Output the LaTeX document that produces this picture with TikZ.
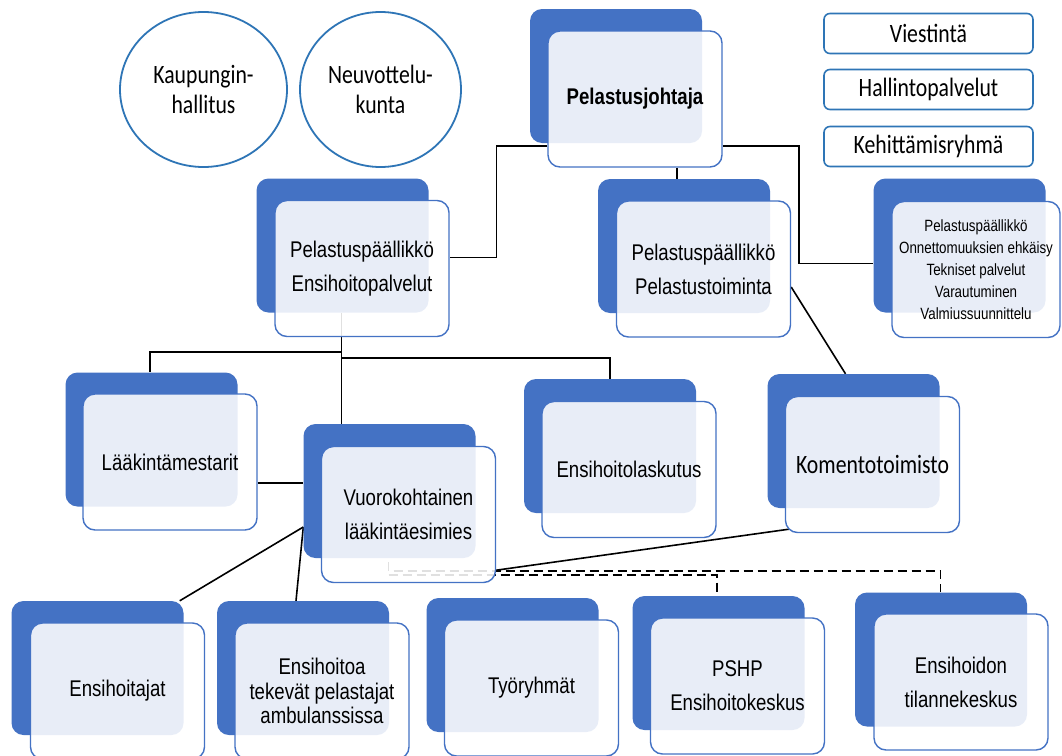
\documentclass[tikz,border=0pt]{standalone}
\usepackage{fontspec}
\usepackage{tikz}
\usetikzlibrary{backgrounds,shapes.geometric}
\newfontfamily\arialnarrow[FakeStretch=0.82]{Liberation Sans}
\newfontfamily\calibrinarrow[FakeStretch=0.82]{Carlito}
\definecolor{boxblue}{HTML}{4472C4}
\definecolor{ovalblue}{HTML}{2E75B6}

\begin{document}
\begin{tikzpicture}[x=1pt,y=-1pt,
  back/.style={rectangle,rounded corners=12pt,fill=boxblue,minimum width=172pt,minimum height=134pt,inner sep=0pt},
  front/.style={rectangle,rounded corners=12pt,draw=boxblue,line width=1.4pt,fill=white,fill opacity=0.88,text opacity=1,minimum width=174pt,minimum height=136pt,inner sep=0pt,align=center,font=\arialnarrow\fontsize{22.7}{34}\selectfont},
  oval/.style={ellipse,draw=ovalblue,line width=1.8pt,inner sep=0pt,align=center,font=\calibrinarrow\fontsize{26.5}{30}\selectfont},
  tag/.style={rectangle,rounded corners=6pt,draw=ovalblue,line width=1.6pt,minimum width=209pt,minimum height=40pt,inner sep=0pt,font=\calibrinarrow\fontsize{26.5}{30}\selectfont},
  link/.style={draw=black,line width=1.6pt},
  dashlink/.style={link,dash pattern=on 9pt off 5pt}]
\useasboundingbox (0,0) rectangle (1062,755);

\node[oval,minimum width=167pt,minimum height=155pt] (kaupunki) at (203.5,89.5) {Kaupungin-\\hallitus};
\node[oval,minimum width=161pt,minimum height=155pt] (neuvottelu) at (380.5,89.5) {Neuvottelu-\\kunta};
\node[tag] (viestinta) at (928.5,33.5) {Viestintä};
\node[tag] (hallinto) at (928.5,89.5) {Hallintopalvelut};
\node[tag] (kehitys) at (928.5,146.5) {Kehittämisryhmä};

\node[back] (johtaja-b) at (616,76) {};
\node[front] (johtaja) at (635,99) {\bfseries Pelastusjohtaja};
\node[back] (ensihoito-b) at (342.5,245.5) {};
\node[front] (ensihoito) at (362,268.5) {Pelastuspäällikkö\\Ensihoitopalvelut};
\node[back] (toiminta-b) at (684,246) {};
\node[front] (toiminta) at (703.5,269) {Pelastuspäällikkö\\Pelastustoiminta};
\node[back] (ehkaisy-b) at (959.5,245.5) {};
\node[front,minimum width=168pt,font=\arialnarrow\fontsize{16.3}{22}\selectfont] (ehkaisy) at (976,269.5) {Pelastuspäällikkö\\Onnettomuuksien ehkäisy\\Tekniset palvelut\\Varautuminen\\Valmiussuunnittelu};

\node[back] (mestarit-b) at (151.5,439.5) {};
\node[front] (mestarit) at (170,462) {Lääkintämestarit};
\node[back] (vuoro-b) at (389.5,491) {};
\node[front] (vuoro) at (408.5,514.5) {Vuorokohtainen\\lääkintäesimies};
\node[back] (laskutus-b) at (610,446) {};
\node[front] (laskutus) at (629,469.5) {Ensihoitolaskutus};
\node[back] (komento-b) at (853.5,441) {};
\node[front,font=\calibrinarrow\fontsize{26.5}{30}\selectfont] (komento) at (872.5,464.5) {Komentotoimisto};

\node[back] (hoitajat-b) at (97.5,668) {};
\node[front] (hoitajat) at (117.5,691) {Ensihoitajat};
\node[back] (ambulanssi-b) at (303,668) {};
\node[front,font=\arialnarrow\fontsize{22.7}{24.5}\selectfont] (ambulanssi) at (322,691) {Ensihoitoa\\tekevät pelastajat\\ambulanssissa};
\node[back] (ryhmat-b) at (512.5,665) {};
\node[front] (ryhmat) at (531.5,688) {Työryhmät};
\node[back] (pshp-b) at (718.5,663) {};
\node[front] (pshp) at (737.5,686) {PSHP\\Ensihoitokeskus};
\node[back] (tilanne-b) at (941,659.5) {};
\node[front] (tilanne) at (961,682) {Ensihoidon\\tilannekeskus};

\begin{scope}[on background layer]
\fill[white] (0,0) rectangle (1062,755);
\draw[link] ([yshift=22pt]johtaja.south west) -- ++(-51,0) |- ([yshift=11pt]ensihoito.east);
\draw[link] ([yshift=22pt]johtaja.south east) -- ++(76,0) |- ([yshift=-18pt]ehkaisy-b.west);
\draw[link] ([xshift=-7pt]toiminta-b.north |- johtaja.south) -- ([xshift=-7pt]toiminta-b.north);
\draw[link] ([yshift=-18pt]toiminta.east) -- ([xshift=-8pt]komento-b.north);
\draw[link] ([xshift=-1pt]ensihoito-b.south) -- ([xshift=-1pt]ensihoito-b.south |- vuoro-b.north);
\coordinate (haara) at ([xshift=-1pt,yshift=-39pt]ensihoito-b.south);
\coordinate (haara2) at ([xshift=-1pt,yshift=-45pt]ensihoito-b.south);
\draw[link] (haara) -| ([xshift=-1.5pt]mestarit-b.north);
\draw[link] (haara2) -| (laskutus-b.north);
\draw[link] ([yshift=-21pt]mestarit.east) -- ([yshift=-21pt]mestarit.east -| vuoro-b.west);
\draw[link] ([yshift=-36pt]vuoro-b.west) -- ([xshift=-4pt]hoitajat-b.north east);
\draw[link] ([yshift=-36pt]vuoro-b.west) -- ([xshift=-7pt]ambulanssi-b.north);
\draw[link] ([shift={(4pt,4pt)}]komento.south west) -- ([yshift=13pt]vuoro.south east);
\draw[dashlink] ([shift={(-20pt,21pt)}]vuoro.south) -- ++(0,9) -| ([xshift=-0.5pt]tilanne-b.north);
\draw[dashlink] ([shift={(-20pt,8pt)}]vuoro.south) -| ([xshift=-1.5pt]pshp-b.north);
\end{scope}
\end{tikzpicture}
\end{document}
